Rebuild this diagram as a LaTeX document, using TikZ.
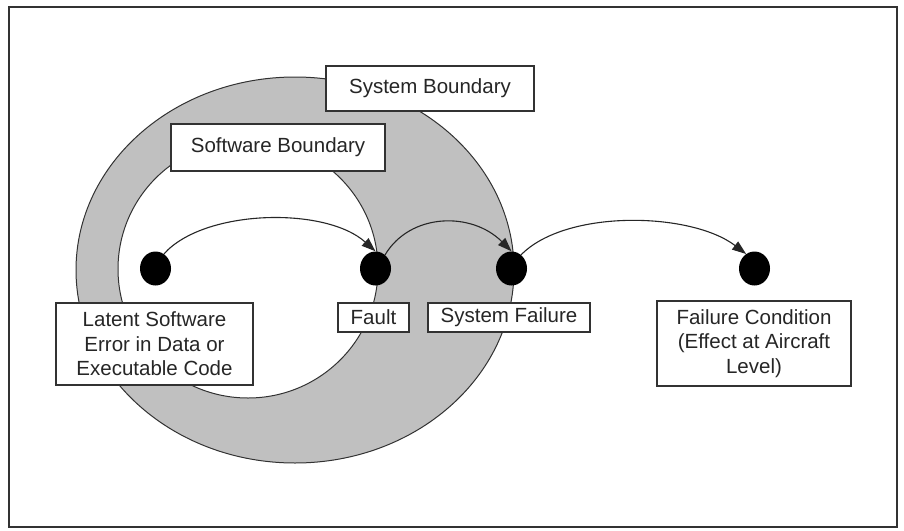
\documentclass[tikz,border=0pt]{standalone}
\usepackage{fontspec}
\setmainfont{Liberation Sans}
\usetikzlibrary{arrows.meta,shapes.geometric}
\definecolor{ring}{RGB}{192,192,192}
\definecolor{ink}{RGB}{50,50,50}
\begin{document}
\begin{tikzpicture}[x=1pt, y=-1pt,
  labelbox/.style={draw=ink, line width=1.3pt, fill=white, inner sep=0pt,
    align=center, text=black!85, font=\fontsize{20.5}{24.5}\selectfont},
  event/.style={ellipse, fill=black, minimum width=31pt, minimum height=34pt, inner sep=0pt},
  flow/.style={draw=black!85, line width=1.1pt,
    -{Triangle[length=14pt, width=10pt]}},
  boundary/.style={draw=ink, line width=1pt}]
  % page frame
  \useasboundingbox (0,0) rectangle (904,530);
  \draw[ink, line width=2.4pt] (9,7) rectangle (897,527);

  % system boundary (grey ring) and software boundary (white inner area)
  \draw[boundary, fill=ring] (295,270) ellipse [x radius=219pt, y radius=193pt];
  \draw[boundary, fill=white] (248,269) ellipse [x radius=130pt, y radius=129pt];

  % boundary captions
  \node[labelbox, minimum width=208pt, minimum height=45pt] (sysb) at (430,88.5) {System Boundary};
  \node[labelbox, minimum width=214pt, minimum height=47pt] (swb) at (278,147.5) {Software Boundary};

  % events
  \node[event] (latent) at (155.5,268.5) {};
  \node[event] (fault) at (375.5,268.5) {};
  \node[event] (sysfail) at (511.5,268.5) {};
  \node[event] (cond) at (754.5,268.5) {};

  % event captions
  \node[labelbox, minimum width=197pt, minimum height=82pt] (latentlbl) at (154.5,344)
    {Latent Software\\Error in Data or\\Executable Code};
  \node[labelbox, minimum width=71pt, minimum height=29pt] (faultlbl) at (373.5,317.5) {Fault};
  \node[labelbox, minimum width=162pt, minimum height=29pt] (sysfaillbl) at (509,317.5) {System Failure};
  \node[labelbox, minimum width=194pt, minimum height=85pt] (condlbl) at (754,343.5)
    {Failure Condition\\(Effect at Aircraft\\Level)};

  % propagation arrows
  \draw[flow] (latent.60) .. controls +(40,-45) and +(-50,-45) .. (fault.north);
  \draw[flow] (fault.55) .. controls +(25,-42) and +(-40,-40) .. (sysfail.north);
  \draw[flow] (sysfail.55) .. controls +(45,-46) and +(-55,-42) .. (cond.120);
\end{tikzpicture}
\end{document}
